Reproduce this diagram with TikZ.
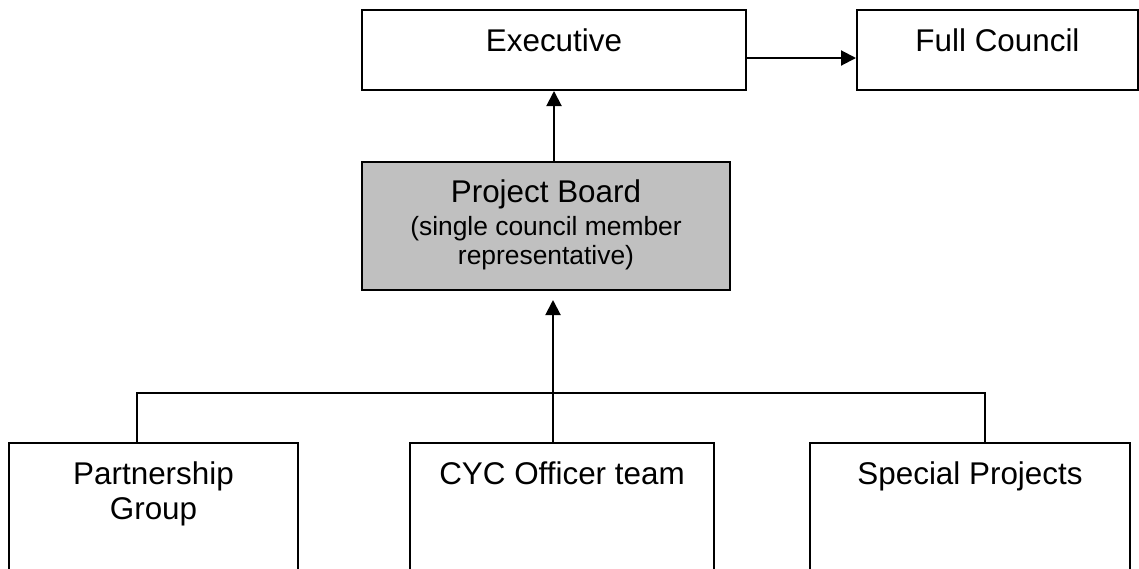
\documentclass[tikz,border=0pt]{standalone}
\usepackage{fontspec}
\setmainfont{Liberation Sans}
\usetikzlibrary{arrows.meta}
\definecolor{boardgray}{RGB}{192,192,192}
\tikzset{
  box/.style={draw=black, line width=1pt, rectangle, anchor=north west, inner sep=0pt},
  boxtext/.style={anchor=north, inner sep=0pt, yshift=-9.5pt, align=center, font=\fontsize{15.7pt}{17.5pt}\selectfont},
  conn/.style={draw=black, line width=1pt},
  arr/.style={conn, -{Triangle[length=7.5pt,width=7.5pt]}},
}
\begin{document}
\begin{tikzpicture}[x=0.5pt,y=-0.5pt]
\clip (0,0) rectangle (1139,568);
\fill[white] (0,0) rectangle (1139,568);
\node[box, minimum width=192pt, minimum height=40pt, label={[boxtext]north:Executive}] (exec) at (361,9) {};
\node[box, minimum width=140.5pt, minimum height=40pt, label={[boxtext]north:Full Council}] (fc) at (856,9) {};
\node[box, fill=boardgray, minimum width=184pt, minimum height=64pt,
  label={[boxtext, yshift=0.5pt]north:{\fontsize{15.7pt}{16.5pt}\selectfont Project Board\\[-1pt]\fontsize{13.2pt}{14.5pt}\selectfont (single council member\\[-3pt]\fontsize{13.2pt}{14.5pt}\selectfont representative)}}] (board) at (361,161) {};
\node[box, minimum width=144.5pt, minimum height=80pt, label={[boxtext]north:{Partnership\\Group}}] (pg) at (8,442) {};
\node[box, minimum width=152pt, minimum height=80pt, label={[boxtext]north:CYC Officer team}] (cyc) at (409,442) {};
\node[box, minimum width=160pt, minimum height=80pt, label={[boxtext]north:Special Projects}] (sp) at (809,442) {};
\coordinate (j1) at (137,393);
\coordinate (j2) at (553,393);
\coordinate (j3) at (985,393);
\draw[arr] ([yshift=-4pt]exec.east) -- ([yshift=-4pt]fc.west);
\draw[arr] (board.north -| exec.south) -- (exec.south);
\draw[conn] (pg.north -| j1) -- (j1) -- (j3) -- (sp.north -| j3);
\draw[arr, shorten >=4.5pt] (cyc.north -| j2) -- (board.south -| j2);
\end{tikzpicture}
\end{document}
